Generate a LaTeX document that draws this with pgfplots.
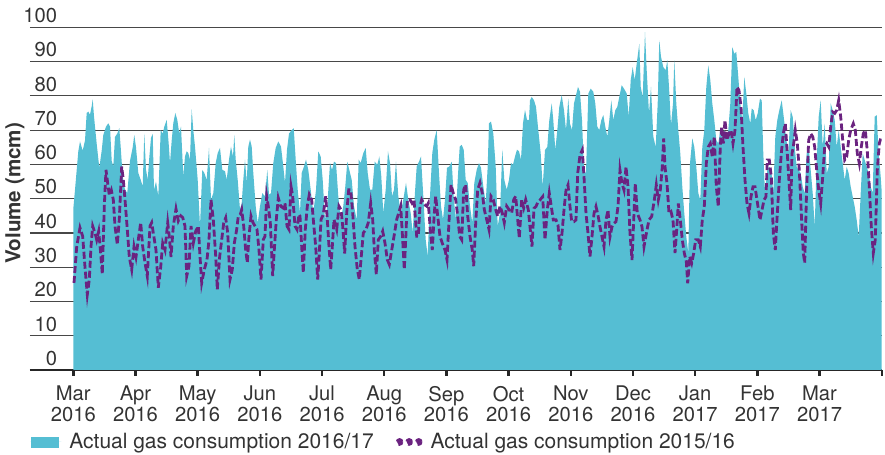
\documentclass[border=0pt]{standalone}
\usepackage{pgfplots}
\pgfplotsset{compat=1.18}
\usepackage{fontspec}
\setmainfont{TeX Gyre Heros}
\definecolor{gasteal}{HTML}{55BED3}
\definecolor{gaspurple}{HTML}{6B2380}
\definecolor{txt}{HTML}{333333}
\begin{document}
\begin{tikzpicture}
\path[use as bounding box] (-15pt,-42.5pt) rectangle (427.5pt,185pt);
\begin{axis}[
  at={(0,0)}, anchor=south west,
  scale only axis, width=425.85pt, height=171.35pt,
  xmin=30, xmax=881.7, ymin=0, ymax=100,
  axis x line*=bottom, axis y line*=left,
  y axis line style={draw=none},
  x axis line style={line width=1.2pt, color=black!85},
  xtick={73.3,135.49,197.67,259.86,322.04,384.23,446.41,508.6,570.78,632.97,695.15,757.34,819.52,881.7},
  xticklabels={Mar\\2016,Apr\\2016,May\\2016,Jun\\2016,Jul\\2016,Aug\\2016,Sep\\2016,Oct\\2016,Nov\\2016,Dec\\2016,Jan\\2017,Feb\\2017,Mar\\2017,{}},
  xtick style={line width=1.2pt, color=black!85},
  tick align=outside, major tick length=2.8pt,
  ytick={0,10,...,100}, ytick style={draw=none},
  ymajorgrids, grid style={line width=0.6pt, color=black!72},
  yticklabel style={anchor=south east, xshift=16.5pt, yshift=2pt, inner sep=0pt},
  xticklabel style={align=center, inner sep=0pt, yshift=-5pt},
  tick label style={font=\fontsize{10.1}{10.4}\selectfont, text=txt},
  /pgf/number format/assume math mode=true,
  ylabel={Volume (mcm)},
  ylabel style={font=\bfseries\fontsize{10.3}{11}\selectfont, text=txt, at={(axis description cs:-0.0176,0.515)}, anchor=center},
  legend style={at={(axis description cs:0,-0.21)}, anchor=west, draw=none, fill=none, inner sep=0pt,
    nodes={inner sep=0pt},
    font=\fontsize{10.5}{12}\selectfont, text=txt,
    /tikz/every odd column/.append style={column sep=4pt},
    /tikz/every even column/.append style={column sep=11pt}},
  legend columns=2,
]
\addplot[fill=gasteal, draw=none,
  legend image code/.code={\path (0pt,0pt) -- (15.5pt,0pt); \fill[gasteal] (0.5pt,-2.9pt) rectangle (14.5pt,2.6pt);}]
coordinates {
(73.3,47) (75,52.6) (78.3,63.8) (80,66.7) (82.7,64) (85,67) (86.7,75) (88.3,75.4) (90,74.5) (91.7,77) (92.7,79) (94,74) (96.7,66) (99.3,59) (101.7,64) (103.3,68.6) (106,71) (108.3,72) (110,71) (111.7,61) (113.3,59.4) (115,68) (117.3,69) (119.3,70.6) (120.7,65) (122.7,56.5) (125,52.6) (127.3,51.7) (130,61) (132.7,65) (134.3,68.6) (136,65) (138.3,57.5) (140.7,55.5) (142.7,53.6) (144.3,69) (146,58.5) (147.7,55.5) (149.3,62) (151,67.7) (152.7,69) (154,52.6) (156,55) (158.3,50.7) (160.7,70) (162.7,69) (164.3,71) (166.7,73) (168.7,66) (170,60.4) (171.7,67) (173.3,72) (175.3,75) (177.3,73) (179.3,69) (181,71) (183.3,56.5)
(185,62.3) (186.7,63.8) (188.3,63.3) (190,61.4) (191.7,76.1) (193.3,70) (195,65.2) (197.7,55.5) (200,42) (202.3,58.4) (204.3,57.5) (206.7,55.5) (209,64.8) (211,49.7) (213.3,51.6) (215.7,60.4) (217.7,63.3) (220,64.8) (222.3,58.4) (225,58) (226.7,55.5) (229,61.4) (231,65.2) (233,62.3) (234.3,68.6) (235.7,61.4) (237.7,55.5) (240,46.8) (241.7,48.7) (243.3,55.5) (245,61.4) (246.7,54.6) (248.3,65.2) (250,67.2) (251.7,65.2) (253.3,57.5) (255.7,47.8) (257.7,42.9) (260,47.8) (262.3,51.6) (265,50.7) (267.3,58.4) (269,51.2) (271,51.6) (273.3,60.4) (275.7,64.8) (278.3,66.7) (281,65.2) (283.3,59.4) (285,54.6) (287,64.3) (289,69) (291.7,70) (293.7,70.6) (295.7,61.4) (297.7,52.6)
(300,45.8) (301.7,57.5) (304,59.4) (306,61.4) (308.3,58.4) (310.7,52.6) (313.3,45.8) (316,52.6) (318.3,63.8) (320.7,62.3) (322.7,55.5) (325,43.9) (327.3,47.8) (330,60.4) (332,58.4) (334,60.8) (336,60.4) (338.3,50.7) (340.7,43.9) (343.3,47.8) (345.3,53.6) (347.3,60.8) (349.3,58.4) (351.7,55.5) (354,47.8) (356.7,43.9) (358.7,61.4) (360.7,60.4) (363.3,63.3) (365.7,64.8) (367.7,57.5) (370,52.6) (372.3,52.6) (374.7,60.8) (377.3,59.9) (379.3,62.3) (381.3,56.5) (383.3,45.8) (385.7,52.6) (388,63.8) (390,60.4) (392,50.7) (394,52.6) (396,60.8) (398.3,50.7) (400.7,45.8) (403.3,49.7) (406,54.6) (408.3,49.7) (410.7,45.8) (412.7,40)
(415,52) (416.7,59.4) (419,60.8) (421,62.3) (423.3,50.7) (425.7,38) (427.7,33.2) (430,50.7) (432.3,63.3) (434.3,67.2) (436.7,70) (439,57.5) (441,47.8) (443,43.9) (445,49.7) (447,59) (449.3,59.4) (451.7,60.8) (453.7,50.7) (455.7,43.9) (457.7,55.5) (459.7,65.2) (461.7,65.7) (463.7,64.3) (465.7,55.5) (467.7,54.6) (470,47.8) (472.3,42.9) (474.3,54.6) (476.7,58.4) (479,60.4) (481,59) (483.3,53.6) (485.7,48.7) (487.7,59.4) (489,72) (491,72.5) (493.3,69) (495.7,59.4) (497.7,41.9) (500,45.8) (502.3,64.3) (504.3,55.5) (506.7,52.6) (509,55.5) (511,60.4) (513,59.9) (515,62.3) (517,64.3) (519,63.8) (521,61.4) (523,72) (525,75.9) (527,73) (529,73)
(530,78.7) (531.7,79.7) (534,78.7) (536,76.8) (538.3,70) (540.7,63.2) (542.7,53.5) (545,64.2) (547.3,65.1) (549.3,72.9) (551.7,77.8) (553.3,72.9) (555.3,64.2) (557.3,70) (559.3,76.8) (561.7,80.2) (564,75.8) (566,70) (568.3,79.2) (570,71.9) (572,70) (574,77.8) (576,80.2) (578,82.6) (580,81.2) (582,72.9) (584,58.3) (586,57.4) (588.3,80.7) (590.7,82.1) (593.3,81.2) (595.3,77.8) (597.3,71) (599.3,70) (601.3,72.9) (603.3,74.4) (605.3,71) (607.3,68.1) (609.3,72.9) (611.3,78.7) (613.3,72.9) (615.3,75.8) (617.3,76.8) (619.3,79.7) (621.7,83.1) (624,82.1) (626.7,80.7) (628.7,73.9) (630.7,84.6) (632.7,88.4) (634.7,84.6) (636.7,89.4) (639.3,95.2) (640.7,82.6) (642.7,79.7)
(645,98.6) (646.7,87.5) (649,74.9) (651,82.6) (653.3,68.1) (655.7,65.1) (657.7,77.8) (659.3,96.2) (661,91.4) (663.3,88.4) (665.7,87.5) (667.3,90.4) (669,82.6) (671,71.5) (673,77.8) (674.3,90.4) (676.3,77.8) (678.3,70) (680.3,63.2) (682.3,53.5) (684.3,45.7) (686.3,38.9) (688.3,34.1) (690,60.3) (692.3,67.6) (694.3,65.1) (696.3,59.3) (698.3,51.6) (700.3,49.6) (702.3,65.1) (704.3,70) (706.3,82.6) (708.3,88.9) (710.3,84.6) (712.3,77.8) (714.3,72.9) (716.3,67.1) (718.3,66.1) (720.3,70) (722.3,68.1) (724.3,70) (726.3,67.1) (728.3,70) (730.3,77.8) (732.3,94.3) (734.3,92.3) (736.3,92.8) (738.3,85.5) (740.3,77.8) (742.3,72.9) (744.3,85.5) (746.3,80.7) (748.3,74.9) (750.3,71.9) (751.7,76.3) (753.7,75.8) (755.7,72.9) (757.7,74.9)
(760,79.2) (761.7,78.7) (763.3,63.2) (765,51.6) (767.3,58.3) (769.3,59.3) (771.3,58.3) (773.3,51.6) (775.3,68.1) (777.3,72.9) (779.3,75.8) (781.7,78.7) (783.3,74.9) (786,68.1) (788.3,63.2) (790.7,75.8) (792.7,73.9) (794.7,65.1) (796.7,59.3) (798.7,58.3) (800.7,57.4) (802.7,53.5) (804.7,51.6) (806.7,63.2) (808.7,65.1) (810.7,58.3) (812.7,51.6) (814.7,41.8) (816.7,61.3) (818.7,73.9) (820.7,78.7) (822.7,65.1) (824.7,71.9) (826.7,57.4) (828.7,59.3) (830.7,77.8) (832.7,75.8) (834.7,72.9) (836.7,65.1) (838.7,70) (840.7,65.1) (842.7,60.3) (844.7,55.4) (846.7,59.3) (848.7,57.4) (850.7,53.5) (852.7,50.6) (854.7,47.7) (856.7,43.8) (858.7,38.9) (860.7,51.6) (862.7,63.2) (864.7,61.3) (866.7,59.3) (868.7,57.4) (870.7,53.5) (872.7,51.6) (874.7,73.9) (876.7,74.4) (878.7,63.2) (880.7,56.4) (881.7,52)
} \closedcycle;
\addlegendentry{Actual gas consumption 2016/17}
\addplot[color=gaspurple, line width=1.4pt, dash pattern=on 3.5pt off 1.5pt,
  legend image code/.code={\fill[gaspurple] (1.2pt,0pt) circle (1.2pt) (6pt,0pt) circle (1.2pt) (10.8pt,0pt) circle (1.2pt);}]
coordinates {
(74,25.4) (76.7,36) (80,41.5) (82.7,39) (85,30) (87.3,22) (89.3,26.4) (91,36) (92.7,42) (95,40) (96.7,38) (98.7,40.5) (100.7,34) (102.3,28) (104.3,47.8) (106,58.4) (107.7,54.5) (109.3,51) (111.3,52.5) (113.3,49.7) (115,42) (117.3,36.6) (119.3,44) (121.7,59.4) (123.3,55.5) (125,49.7) (127.3,41) (129.3,33) (131.7,29.3) (134,36) (136,33) (138.3,38) (140.7,43) (142.7,36) (145,31.3) (147.3,27.4) (150,42) (151.7,43) (153.3,40) (156,35) (158.3,24) (160.7,30) (162.7,37) (165,35) (167.7,43) (169.3,39) (171,33) (173.3,42) (176,47) (178.3,43.5) (180.7,45) (182.7,44.5)
(185,42) (186.7,27.4) (189,30.3) (191,42) (193.3,37) (195.7,40.5) (198.3,42) (200,33.2) (201.7,25.4) (204.3,29.3) (207,32.2) (209,38) (211,49.7) (213.3,43.9) (215.7,33.2) (217.3,23.5) (219.7,33.2) (221.7,38) (223.7,42.9) (225.7,44.4) (227.7,40) (230,26.4) (232.3,29.3) (234.3,37) (236.7,41) (238.3,44.9) (240.3,45.4) (241.7,46.8) (243.7,42) (245.7,35) (247.3,31.3) (249,39) (251,44.9) (253,43) (255,42) (257,41) (259,35) (261,26.4) (263.3,38) (265,39) (266.7,50.7) (268.3,47.8) (270.3,43) (272.7,27.4) (274.3,35) (276.3,43.9) (278.3,50.2) (280.7,47.8) (283,47.3) (285,48.7) (287,42) (289,41) (291,53.6) (292.7,50.7) (295,42) (297,41) (299,45.4)
(300,44.9) (301.7,36) (303.3,28.4) (305.3,41) (307.3,47.8) (309.3,51.2) (311.7,49.7) (313.3,43.9) (315.7,36) (317.7,26.4) (319.3,34) (321,43.9) (323.3,45.4) (325.7,50.7) (327.3,43.9) (329,36) (330.7,29.3) (332.3,36) (334,43.9) (336.7,41) (339,47.8) (341,46.8) (342.7,42) (344.7,34) (346.7,45.8) (348.7,52.6) (350.7,52.6) (352.7,45.8) (355,36) (357.3,29.3) (359.3,26.4) (361.3,33.2) (363.3,40) (366,41) (368.3,43) (370.7,48.7) (372.7,43.9) (374.3,35) (376.3,27.9) (378.3,38) (380.7,39) (382.7,40.5) (385,37) (387.3,32.2) (389.3,30.8) (391.7,35) (394,39) (396.7,43.9) (398.7,45.8) (400.7,47.8) (402.7,38) (404.3,29.3) (406,40) (407.3,49.7) (410,49.7) (412,48.7) (414,49.7)
(416.7,39) (418.3,39) (420,47.8) (421.7,49.7) (424.3,48.3) (426.7,47.8) (428.3,48.7) (430.3,41) (432.3,35) (434.3,45.8) (435.7,50.7) (437.7,44.9) (440,39) (442.3,37) (445,35) (447,32.2) (449.3,44.9) (451,54.1) (453.3,51.6) (455.7,49.7) (457.7,44.9) (459.7,39) (461.7,38) (463.7,52.6) (465.7,54.1) (467.7,44.9) (470,39) (472.3,35) (473.7,30.3) (475.7,42.9) (477.7,52.6) (480,54.6) (482.3,51.6) (484.3,46.8) (486.7,43.9) (489,41) (491,50.7) (493.3,49.7) (495.7,46.8) (497.7,44.9) (500,47.8) (502.3,45.8) (504.3,43) (506.7,47.8) (509,46.8) (511.7,45.8) (513.7,49.7) (515.7,50.7) (517.7,43.9) (519.3,38.5) (521.7,49.7) (523.7,47.3) (525.7,49.7) (528.3,46.8)
(530,41.8) (532,36) (534,47.2) (536,47.7) (538,49.1) (540,49.6) (542.7,50.6) (545,38) (547.3,46.7) (549.3,51.6) (551.3,47.7) (553.3,43.8) (556,43.8) (558,42.3) (560,35) (562,39.9) (564,46.7) (566,52.5) (568,54) (570,47.7) (571.7,43.3) (574,43.3) (576,43.8) (577.7,57.4) (580,62.7) (582.3,64.2) (584,56.4) (586,45.7) (588,39.9) (590,33.1) (592,38.9) (594,45.7) (596,47.7) (598,45.2) (600,41.8) (602,38.9) (604,36) (606,43.8) (608,46.7) (610,38.9) (612,41.8) (614,42.8) (616,43.3) (618,47.7) (620,58.3) (622,54.5) (624,52.5) (626,59.3) (628,53.5) (630,39.9) (632,32.1) (634,45.7) (635.3,54.5) (637.3,45.7) (640,43.8) (642,41.8) (644,36)
(647,40.9) (649,43.8) (651.7,44.8) (654.3,49.6) (656.3,54) (658.3,49.6) (660.3,52.5) (662.3,59.3) (663.7,67.6) (665,59.3) (667,54.5) (669,45.7) (671,46.2) (673,43.8) (675,34.1) (677,42.3) (678.3,48.6) (680.3,43.8) (682.3,38) (684.3,34.1) (686.3,31.7) (687.7,25.3) (689.7,33.1) (691.7,31.2) (693.7,34.1) (695.7,38) (698.3,38) (700.3,36) (702.3,43.8) (704.3,47.7) (706.3,60.3) (708.3,65.1) (710.3,66.1) (712.3,62.2) (714.3,68.1) (716.3,53.5) (718.3,47.7) (720.3,65.1) (721.7,71) (723.3,66.1) (725,72.9) (727,67.1) (729,69) (731,70) (733,66.1) (735,70) (737,82.6) (739,81.6) (741,76.8) (743,65.1) (745,55.4) (747,48.6) (749,45.7) (751,50.6) (753,53.5) (755,53.5) (757,49.6)
(760,43.8) (762,46.7) (764,49.6) (766,50.6) (767.3,61.3) (769.3,61.3) (771.3,56.4) (773.3,39.9) (775.3,35) (777.3,45.7) (779.3,55.4) (781.3,63.2) (783.3,69) (785.3,71.9) (787.3,63.2) (789.3,53.5) (790.7,46.7) (792,63.2) (793.3,65.1) (795.3,70) (797.3,66.1) (799.3,58.3) (801.3,45.7) (803.3,34.1) (804.7,31.2) (806.7,53.5) (808.7,67.1) (810.7,69) (812.7,68.1) (814.7,65.1) (816.7,58.3) (818.7,52.5) (820.7,48.6) (822.7,56.4) (824.7,65.1) (826.7,66.1) (828.7,65.1) (830.7,71) (832.7,75.3) (834.7,74.9) (836.7,75.8) (838.7,78.7) (840.7,73.9) (842.7,67.1) (844.7,61.3) (846.7,62.2) (848.7,67.1) (850.7,70) (853.3,71.9) (855.3,70) (857.3,63.2) (859.3,60.3) (861.3,65.1) (863.3,69) (865.3,70) (867.3,63.8) (869.3,53.5) (871.3,41.8) (873.3,34.1) (875.3,38) (877.3,58.3) (879.3,66.1) (881.3,68.1)
};
\addlegendentry{Actual gas consumption 2015/16}
\end{axis}
\end{tikzpicture}
\end{document}
